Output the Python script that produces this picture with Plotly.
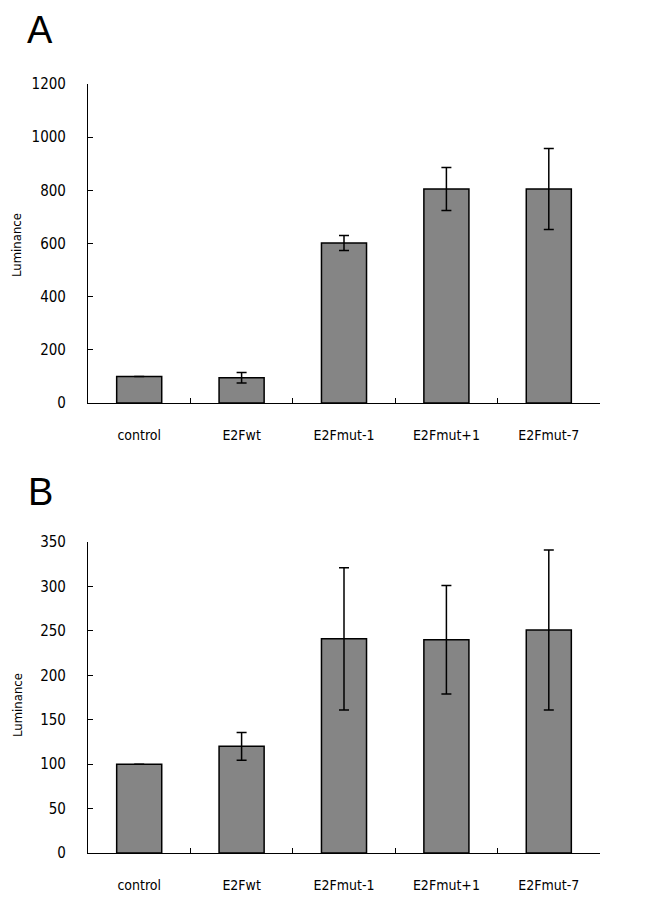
import plotly.graph_objects as go

categories = ["control", "E2Fwt", "E2Fmut-1", "E2Fmut+1", "E2Fmut-7"]
values_a = [100, 95, 602, 805, 805]
errors_a = [0, 20, 28, 81, 152]
values_b = [100, 120, 241, 240, 251]
errors_b = [0, 15.5, 80, 61, 90]
yticks_a = [0, 200, 400, 600, 800, 1000, 1200]
yticks_b = [0, 50, 100, 150, 200, 250, 300, 350]

W, H = 664, 900
OFF = 8  # default page body margin
FONT = "Liberation Sans Narrow, DejaVu Sans Condensed, Liberation Sans, sans-serif"
BAR_COLOR = "#858585"


def px(x):
    return (x - OFF) / W


def py(y):
    return 1 - (y - OFF) / H


fig = go.Figure()


def add_panel(vals, errs, xa, ya):
    fig.add_trace(go.Bar(
        x=categories, y=vals, xaxis=xa, yaxis=ya, width=0.44,
        marker=dict(color=BAR_COLOR, line=dict(color="black", width=1.5)),
        error_y=dict(type="data", array=errs, visible=True, color="black",
                     thickness=1.5, width=5),
        showlegend=False, hoverinfo="skip",
    ))


add_panel(values_a, errors_a, "x", "y")
add_panel(values_b, errors_b, "x2", "y2")

xdom = [px(88), px(600)]


def yax(domain, rng, ticks):
    return dict(domain=domain, range=rng, tickvals=ticks, ticktext=[str(t) for t in ticks],
                showgrid=False, zeroline=False, showline=True, linecolor="black", linewidth=1.2,
                ticks="inside", ticklen=5, tickcolor="black", tickwidth=1.2,
                tickfont=dict(family=FONT, size=15, color="black"),
                ticklabelstandoff=18, fixedrange=True, automargin=False)


def xax(anchor):
    return dict(domain=xdom, anchor=anchor, type="category", range=[-0.5, 4.5],
                tickson="boundaries", ticks="inside", ticklen=5, tickcolor="black", tickwidth=1.2,
                showline=True, linecolor="black", linewidth=1.2, showgrid=False,
                tickfont=dict(family=FONT, size=14, color="black"),
                ticklabelstandoff=19, fixedrange=True, automargin=False)


fig.update_layout(
    width=W, height=H,
    margin=dict(l=0, r=0, t=0, b=0, autoexpand=False),
    paper_bgcolor="white", plot_bgcolor="white",
    xaxis=xax("y"),
    yaxis=yax([py(403), py(84)], [0, 1200], yticks_a),
    xaxis2=xax("y2"),
    yaxis2=yax([py(853), py(542)], [0, 350], yticks_b),
    annotations=[
        dict(text="A", x=px(40), y=1, xref="paper", yref="paper", showarrow=False,
             xanchor="center", yanchor="top", borderpad=0,
             font=dict(family="Liberation Sans, Arial, sans-serif", size=38, color="black")),
        dict(text="B", x=px(40), y=py(492), xref="paper", yref="paper", showarrow=False,
             xanchor="center", yanchor="middle",
             font=dict(family="Liberation Sans, Arial, sans-serif", size=38, color="black")),
        dict(text="Luminance", x=px(17), y=py(245), xref="paper", yref="paper",
             showarrow=False, textangle=-90, xanchor="center", yanchor="middle",
             font=dict(family=FONT, size=13, color="black")),
        dict(text="Luminance", x=px(17), y=py(705), xref="paper", yref="paper",
             showarrow=False, textangle=-90, xanchor="center", yanchor="middle",
             font=dict(family=FONT, size=13, color="black")),
    ],
)

fig.write_html("out.html")
